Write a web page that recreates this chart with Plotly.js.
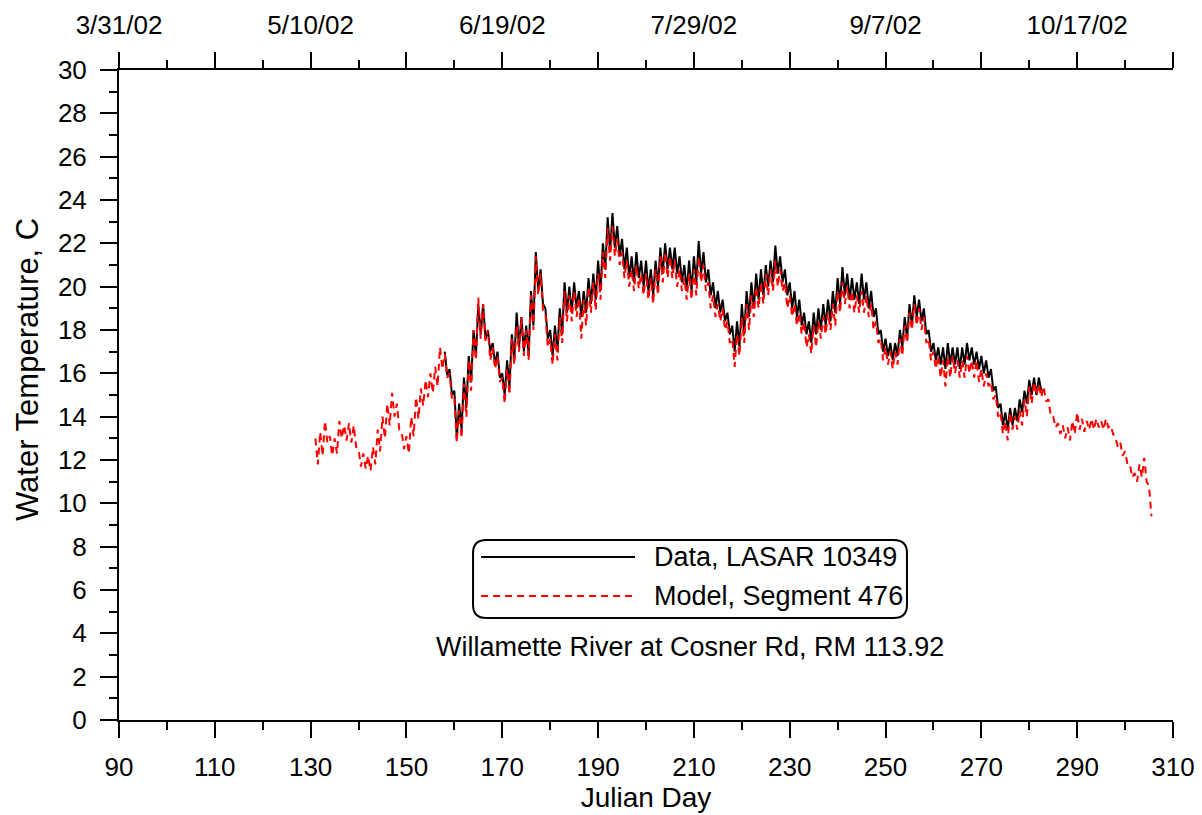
<!DOCTYPE html>
<html>
<head>
<meta charset="utf-8">
<script src="https://cdn.plot.ly/plotly-3.0.1.min.js"></script>
<style>html,body{margin:0;padding:0;background:#fff}#chart{width:1202px;height:815px}</style>
</head>
<body>
<div id="chart"></div>
<script>
// Model, Segment 476: daily max / min (Julian day 131..305)
const modelStartDay = 131;
const modelMax = [
  13.0,13.3,13.8,13.1,13.0,13.8,13.6,13.7,13.6,12.5,
  12.3,12.2,12.6,13.4,14.0,14.6,15.1,14.6,13.3,13.1,
  14.0,14.9,15.3,15.7,16.0,16.3,17.2,16.9,16.0,14.9,
  14.3,15.5,16.6,18.0,19.5,19.2,18.0,17.2,16.8,15.8,
  16.2,17.6,18.2,18.6,18.0,19.6,21.4,20.6,18.8,17.6,
  17.8,18.6,19.8,19.6,19.8,19.5,19.4,20.0,20.2,20.6,
  21.6,22.7,22.8,22.2,21.6,21.2,20.8,21.0,20.6,20.6,
  20.4,20.8,21.4,21.6,21.4,21.2,20.8,20.4,20.6,20.8,
  21.4,21.0,20.2,19.6,19.2,19.0,18.4,17.6,17.8,18.6,
  19.2,19.6,20.0,20.2,20.6,20.8,21.2,20.8,20.2,19.6,
  19.2,18.8,18.4,17.8,18.2,18.4,18.6,18.8,19.2,19.8,
  20.2,20.0,19.8,19.6,19.8,19.6,19.2,18.4,17.6,17.2,
  17.0,17.0,17.6,18.2,18.8,19.2,19.0,18.6,17.6,17.0,
  16.8,16.6,16.8,16.8,16.6,16.6,16.8,16.6,16.6,16.2,
  16.0,15.6,15.0,14.2,13.8,14.2,14.0,14.3,14.8,15.4,
  15.6,15.5,15.4,14.8,14.0,13.7,13.6,13.5,13.8,14.2,
  13.9,13.8,13.9,13.9,13.8,13.9,13.6,13.0,12.8,12.4,
  11.8,11.4,11.8,12.1,10.8
];
const modelMin = [
  11.8,12.2,12.8,12.2,12.3,13.0,12.9,12.8,12.6,11.7,
  11.6,11.5,11.8,12.4,13.0,13.6,14.0,13.4,12.5,12.3,
  13.1,13.9,14.5,14.9,15.1,15.4,16.2,15.8,14.8,12.8,
  13.0,14.0,15.2,16.6,17.6,17.5,16.6,16.2,15.6,14.6,
  15.0,16.4,17.0,16.8,16.6,18.0,19.6,18.9,17.2,16.4,
  16.6,17.4,18.4,18.4,18.6,17.6,18.2,18.8,18.9,19.4,
  20.4,21.2,21.4,21.0,20.4,20.0,19.8,19.9,19.6,19.4,
  19.2,19.6,20.2,20.4,20.4,20.0,19.8,19.4,19.4,19.6,
  20.2,19.8,19.0,18.6,18.4,18.0,17.4,16.3,16.8,17.4,
  18.0,18.6,19.0,19.2,19.6,19.8,20.0,19.8,19.0,18.6,
  18.2,17.8,17.2,16.9,17.2,17.6,17.8,18.0,18.2,18.8,
  19.2,19.0,18.8,18.8,18.8,18.6,18.0,17.4,16.6,16.4,
  16.2,16.4,16.8,17.4,18.0,18.2,18.0,17.4,16.6,16.2,
  15.8,15.4,15.8,16.0,15.8,15.8,16.0,15.8,15.6,15.4,
  15.4,14.8,14.0,13.2,12.9,13.4,13.4,13.6,14.0,14.6,
  15.0,14.9,14.7,14.0,13.5,13.2,13.0,12.9,13.2,13.4,
  13.3,13.4,13.4,13.5,13.4,13.5,13.2,12.6,12.2,11.8,
  11.2,11.0,11.2,11.0,9.4
];

// Data, LASAR 10349: daily max / min (Julian day 158..282)
const dataStartDay = 158;
const dataMax = [
  17.0,16.2,15.2,14.6,15.8,16.8,18.0,19.2,19.2,18.0,
  17.4,17.0,16.0,16.6,17.8,18.8,18.6,18.2,19.8,21.6,
  20.8,19.0,18.0,18.2,19.0,20.2,20.0,20.2,19.8,19.8,
  20.4,20.6,21.2,22.0,23.2,23.4,22.8,22.2,21.8,21.4,
  21.6,21.2,21.2,20.8,21.2,21.8,22.0,21.8,21.8,21.4,
  21.0,21.2,21.4,22.1,21.6,20.8,20.2,19.8,19.4,18.8,
  18.2,18.4,19.2,19.8,20.2,20.6,20.8,21.0,21.2,21.9,
  21.4,20.8,20.2,19.8,19.4,18.8,18.4,18.8,19.0,19.2,
  19.4,19.8,20.4,20.9,20.6,20.4,20.2,20.6,20.2,19.8,
  19.0,18.0,17.6,17.4,17.4,18.0,18.6,19.2,19.6,19.4,
  19.0,18.0,17.4,17.2,17.2,17.4,17.2,17.2,17.2,17.4,
  17.2,17.0,16.8,16.6,16.2,15.4,14.6,14.2,14.4,14.4,
  14.8,15.2,15.7,15.8,15.8
];
const dataMin = [
  15.9,15.0,13.0,13.4,14.4,15.6,16.8,17.8,17.6,17.0,
  16.4,15.8,15.0,15.4,16.6,17.2,17.0,16.8,18.2,19.8,
  19.2,17.6,16.8,17.0,17.8,18.8,18.8,19.0,18.6,18.8,
  19.2,19.4,19.8,20.8,21.6,21.8,21.4,20.8,20.4,20.2,
  20.4,20.0,19.8,19.6,20.0,20.6,20.8,20.8,20.6,20.2,
  19.8,19.8,20.2,20.6,20.2,19.6,19.0,18.8,18.4,17.8,
  17.0,17.2,17.8,18.6,19.0,19.4,19.6,20.0,20.2,20.6,
  20.2,19.6,19.0,18.6,18.2,17.8,17.4,17.8,18.0,18.2,
  18.4,18.8,19.2,19.6,19.4,19.4,19.2,19.4,19.0,18.6,
  17.8,17.0,16.8,16.6,16.8,17.2,17.6,18.2,18.6,18.4,
  17.8,17.0,16.6,16.4,16.2,16.4,16.4,16.2,16.4,16.6,
  16.4,16.2,16.0,15.8,15.2,14.4,13.6,13.4,13.6,13.8,
  14.2,14.6,15.0,15.0,15.2
];

// Axis ticks
const topTickVals = [90,110,130,150,170,190,210,230,250,270,290,310];
const topTickText = ['3/31/02','','5/10/02','','6/19/02','','7/29/02','','9/7/02','','10/17/02',''];

const seriesNames = ['Data, LASAR 10349', 'Model, Segment 476'];
const siteLabel = 'Willamette River at Cosner Rd, RM 113.92';
const yTitle = 'Water Temperature, C';

function interleave(start, maxArr, minArr) {
  const x = [], y = [];
  for (let i = 0; i < maxArr.length; i++) {
    x.push(start + i); y.push(maxArr[i]);
    x.push(start + i + 0.5); y.push(minArr[i]);
  }
  return {x, y};
}
const d = interleave(dataStartDay, dataMax, dataMin);
const m = interleave(modelStartDay, modelMax, modelMin);

const FONT = 'Liberation Sans, Arial, sans-serif';

const traces = [
  {x: d.x, y: d.y, type: 'scatter', mode: 'lines', name: seriesNames[0],
   line: {color: '#000000', width: 2}, hoverinfo: 'skip'},
  {x: m.x, y: m.y, type: 'scatter', mode: 'lines', name: seriesNames[1],
   line: {color: '#ff0000', width: 2, dash: '7px,5px'}, hoverinfo: 'skip'},
  {x: [topTickVals[0]], y: [null], xaxis: 'x2', type: 'scatter', mode: 'lines',
   showlegend: false, hoverinfo: 'skip'}
];

// rounded legend box (paper coords)
const bx0 = 0.3359, bx1 = 0.7476, byT = 0.2769, byB = 0.1569, rx = 0.0125, ry = 0.02;
const boxPath = `M${bx0+rx},${byT} L${bx1-rx},${byT} Q${bx1},${byT} ${bx1},${byT-ry} ` +
  `L${bx1},${byB+ry} Q${bx1},${byB} ${bx1-rx},${byB} L${bx0+rx},${byB} ` +
  `Q${bx0},${byB} ${bx0},${byB+ry} L${bx0},${byT-ry} Q${bx0},${byT} ${bx0+rx},${byT} Z`;

const axisCommon = {
  showline: true, linecolor: '#000', linewidth: 2, showgrid: false, zeroline: false,
  ticks: 'outside', tickcolor: '#000', tickwidth: 2, fixedrange: true,
  tickfont: {family: FONT, size: 26, color: '#000'}
};

const layout = {
  width: 1202, height: 815,
  margin: {l: 119, r: 29, t: 70, b: 95},
  paper_bgcolor: '#fff', plot_bgcolor: '#fff',
  showlegend: false,
  font: {family: FONT, color: '#000'},
  xaxis: Object.assign({}, axisCommon, {
    range: [90, 310], tickmode: 'linear', tick0: 90, dtick: 20, ticklen: 16, ticklabelstandoff: 7,
    minor: {tickmode: 'linear', tick0: 90, dtick: 10, ticklen: 8, tickwidth: 2, tickcolor: '#000', ticks: 'outside', showgrid: false},
    title: {text: 'Julian Day', font: {family: FONT, size: 28, color: '#000'}, standoff: 2},
    automargin: false
  }),
  xaxis2: Object.assign({}, axisCommon, {
    overlaying: 'x', side: 'top', anchor: 'y',
    range: [90, 310], tickmode: 'array', tickvals: topTickVals, ticktext: topTickText, ticklen: 16, ticklabelstandoff: 8,
    minor: {tickmode: 'linear', tick0: 90, dtick: 10, ticklen: 8, tickwidth: 2, tickcolor: '#000', ticks: 'outside', showgrid: false},
    automargin: false
  }),
  yaxis: Object.assign({}, axisCommon, {
    range: [0, 30], tickmode: 'linear', tick0: 0, dtick: 2, ticklen: 17, ticklabelstandoff: 8,
    minor: {tickmode: 'linear', tick0: 0, dtick: 1, ticklen: 8, tickwidth: 2, tickcolor: '#000', ticks: 'outside', showgrid: false},
    automargin: false
  }),
  shapes: [
    {type: 'path', xref: 'paper', yref: 'paper', path: boxPath, line: {color: '#000', width: 2}, fillcolor: 'rgba(0,0,0,0)', layer: 'above'},
    {type: 'line', xref: 'paper', yref: 'paper', x0: 0.3435, x1: 0.4896, y0: 0.2508, y1: 0.2508, line: {color: '#000', width: 2}},
    {type: 'line', xref: 'paper', yref: 'paper', x0: 0.3435, x1: 0.4896, y0: 0.1908, y1: 0.1908, line: {color: '#ff0000', width: 2, dash: '7px,5px'}}
  ],
  annotations: [
    {xref: 'paper', yref: 'paper', x: -0.0873, y: 0.54, xanchor: 'center', yanchor: 'middle', showarrow: false,
     textangle: -90, text: yTitle, font: {family: FONT, size: 31, color: '#000'}},
    {xref: 'paper', yref: 'paper', x: 0.5057, y: 0.2508, xanchor: 'left', yanchor: 'middle', showarrow: false,
     text: seriesNames[0], font: {family: FONT, size: 27, color: '#000'}},
    {xref: 'paper', yref: 'paper', x: 0.5057, y: 0.1908, xanchor: 'left', yanchor: 'middle', showarrow: false,
     text: seriesNames[1], font: {family: FONT, size: 27, color: '#000'}},
    {xref: 'paper', yref: 'paper', x: 0.5417, y: 0.1123, xanchor: 'center', yanchor: 'middle', showarrow: false,
     text: siteLabel, font: {family: FONT, size: 27, color: '#000'}}
  ]
};

Plotly.newPlot('chart', traces, layout, {displayModeBar: false, staticPlot: true});
</script>
</body>
</html>
